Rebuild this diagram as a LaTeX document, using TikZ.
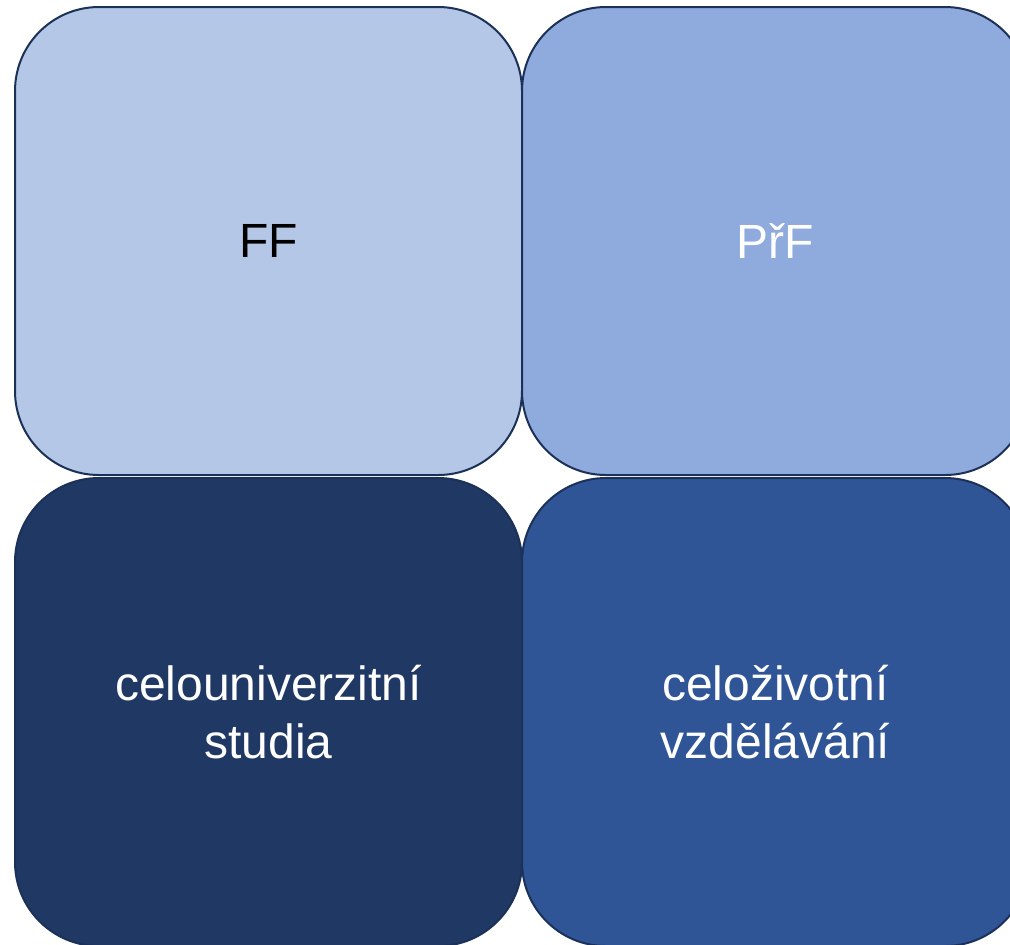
\documentclass[tikz,border=0pt]{standalone}
\usepackage{fontspec}
\setmainfont{Liberation Sans}
\usepackage{xcolor}
\definecolor{lightblue}{HTML}{B4C7E7}
\definecolor{midblue}{HTML}{8FAADC}
\definecolor{darkblue}{HTML}{203864}
\definecolor{deepblue}{HTML}{2F5597}
\definecolor{rimblue}{HTML}{1C3157}

\begin{document}
\begin{tikzpicture}[x=0.5pt,y=-0.5pt,
    unit/.style={draw=rimblue,line width=1pt,rounded corners=42pt,
        minimum width=253.5pt,minimum height=234pt,align=center,
        font=\fontsize{24}{29}\selectfont,inner sep=0pt}]
    \useasboundingbox (0,0) rectangle (1010,944);
    \clip (0,0) rectangle (1010,944);

    \node[unit,fill=lightblue,text=black] (ff) at (268.5,241) {FF};
    \node[unit,fill=midblue,text=white] (prf) at (775.5,241) {PřF};
    \node[unit,fill=darkblue,text=white] (celouni) at (268.5,712) {celouniverzitní\\studia};
    \node[unit,fill=deepblue,text=white] (celozivot) at (775.5,712) {celoživotní\\vzdělávání};
\end{tikzpicture}
\end{document}
